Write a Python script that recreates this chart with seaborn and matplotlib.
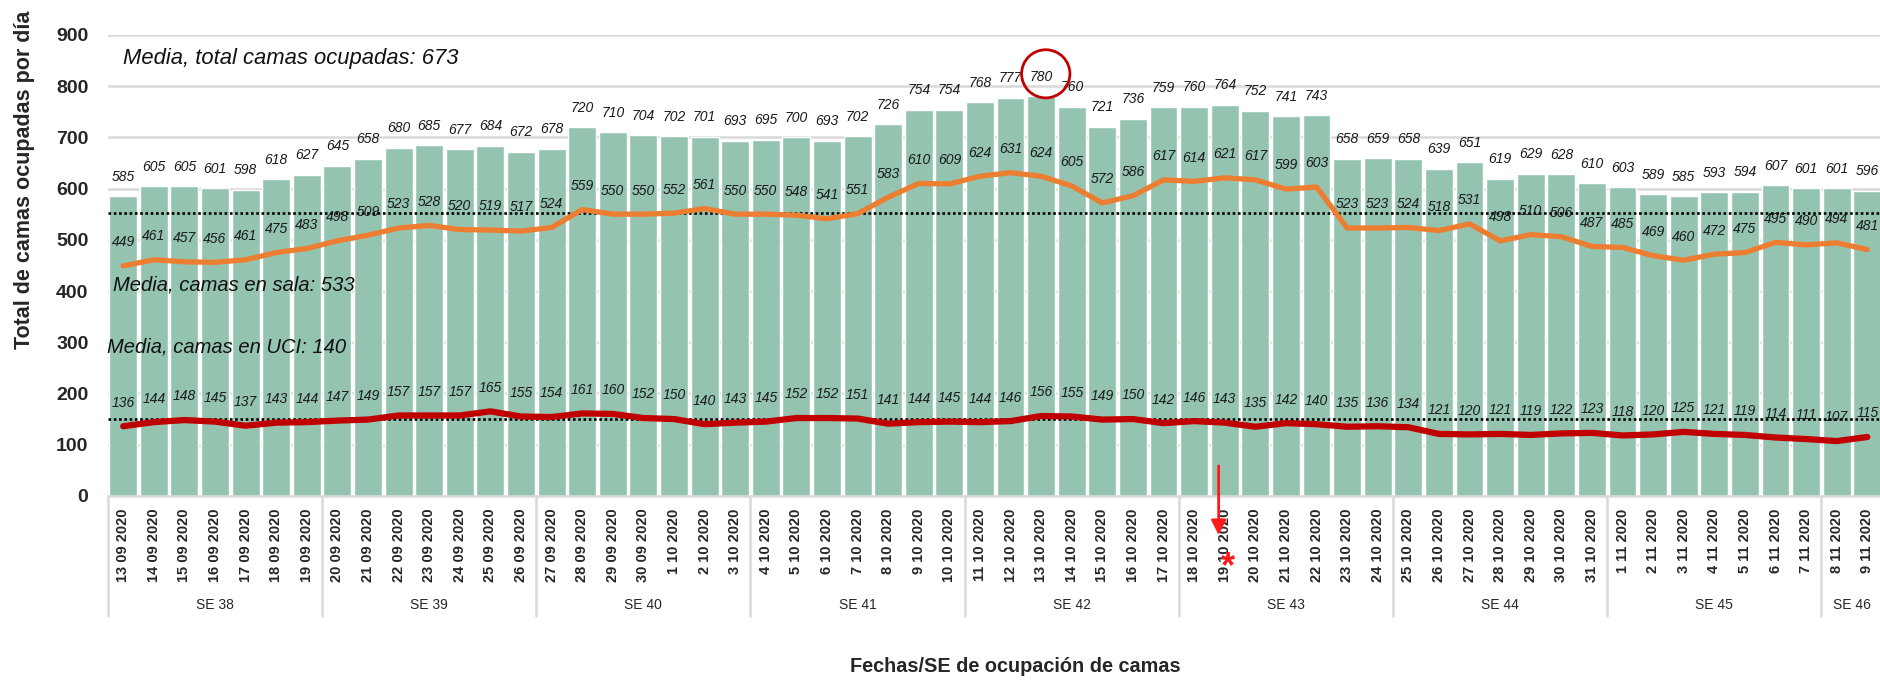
import matplotlib
matplotlib.use('Agg')
import matplotlib.pyplot as plt
from matplotlib.patches import Ellipse
import numpy as np
import pandas as pd
import seaborn as sns

# datos
fechas = ['13 09 2020', '14 09 2020', '15 09 2020', '16 09 2020', '17 09 2020', '18 09 2020', '19 09 2020',
          '20 09 2020', '21 09 2020', '22 09 2020', '23 09 2020', '24 09 2020', '25 09 2020', '26 09 2020',
          '27 09 2020', '28 09 2020', '29 09 2020', '30 09 2020', '1 10 2020', '2 10 2020', '3 10 2020',
          '4 10 2020', '5 10 2020', '6 10 2020', '7 10 2020', '8 10 2020', '9 10 2020', '10 10 2020',
          '11 10 2020', '12 10 2020', '13 10 2020', '14 10 2020', '15 10 2020', '16 10 2020', '17 10 2020',
          '18 10 2020', '19 10 2020', '20 10 2020', '21 10 2020', '22 10 2020', '23 10 2020', '24 10 2020',
          '25 10 2020', '26 10 2020', '27 10 2020', '28 10 2020', '29 10 2020', '30 10 2020', '31 10 2020',
          '1 11 2020', '2 11 2020', '3 11 2020', '4 11 2020', '5 11 2020', '6 11 2020', '7 11 2020',
          '8 11 2020', '9 11 2020']
semanas = ['SE 38', 'SE 39', 'SE 40', 'SE 41', 'SE 42', 'SE 43', 'SE 44', 'SE 45', 'SE 46']
dias_semana = [7, 7, 7, 7, 7, 7, 7, 7, 2]

total = [585, 605, 605, 601, 598, 618, 627, 645, 658, 680, 685, 677, 684, 672, 678, 720, 710, 704, 702, 701,
         693, 695, 700, 693, 702, 726, 754, 754, 768, 777, 780, 760, 721, 736, 759, 760, 764, 752, 741, 743,
         658, 659, 658, 639, 651, 619, 629, 628, 610, 603, 589, 585, 593, 594, 607, 601, 601, 596]
sala = [449, 461, 457, 456, 461, 475, 483, 498, 509, 523, 528, 520, 519, 517, 524, 559, 550, 550, 552, 561,
        550, 550, 548, 541, 551, 583, 610, 609, 624, 631, 624, 605, 572, 586, 617, 614, 621, 617, 599, 603,
        523, 523, 524, 518, 531, 498, 510, 506, 487, 485, 469, 460, 472, 475, 495, 490, 494, 481]
uci = [136, 144, 148, 145, 137, 143, 144, 147, 149, 157, 157, 157, 165, 155, 154, 161, 160, 152, 150, 140,
       143, 145, 152, 152, 151, 141, 144, 145, 144, 146, 156, 155, 149, 150, 142, 146, 143, 135, 142, 140,
       135, 136, 134, 121, 120, 121, 119, 122, 123, 118, 120, 125, 121, 119, 114, 111, 107, 115]

linea_sala = 552
linea_uci = 150
media_total, media_sala, media_uci = 673, 533, 140
fecha_marcada = '19 10 2020'

sns.set_style('white')
plt.rcParams['font.family'] = ['Liberation Sans', 'DejaVu Sans']

df = pd.DataFrame({'fecha': fechas, 'total': total, 'sala': sala, 'uci': uci})
df['pos'] = np.arange(len(df))

fig = plt.figure(figsize=(18.8, 6.84), dpi=100, facecolor='white')
ax = fig.add_axes([0.0574, 0.275, 0.944, 0.674])

sns.barplot(data=df, x='fecha', y='total', color='#94C4B0', saturation=1, width=0.91, ax=ax, zorder=2)
ax.axhline(linea_sala, color='black', lw=1.9, linestyle=(0, (1, 1)), zorder=3)
ax.axhline(linea_uci, color='black', lw=1.9, linestyle=(0, (1, 1)), zorder=3)
sns.lineplot(data=df, x='pos', y='sala', color='#ED7D31', lw=3.8, ax=ax, zorder=4)
sns.lineplot(data=df, x='pos', y='uci', color='#C00000', lw=4.5, ax=ax, zorder=4)

lab = dict(ha='center', va='center', fontsize=10, fontstyle='italic', color='#1a1a1a', zorder=6,
           textcoords='offset points')
for i in range(len(df)):
    ax.annotate(str(total[i]), (i, total[i]), xytext=(0, 14), **lab)
    ax.annotate(str(sala[i]), (i, sala[i]), xytext=(0, 17), **lab)
    ax.annotate(str(uci[i]), (i, uci[i]), xytext=(0, 17), **lab)

# textos de medias
txt = dict(ha='left', va='center', fontstyle='italic', color='#111111', zorder=6)
ax.text(0.0, 853, 'Media, total camas ocupadas: %d' % media_total, fontsize=15.8, **txt)
ax.text(-0.34, 412, 'Media, camas en sala: %d' % media_sala, fontsize=14.5, **txt)
ax.text(-0.53, 291, 'Media, camas en UCI: %d' % media_uci, fontsize=14.5, **txt)

# circulo en el maximo
imax = int(np.argmax(total))
ax.add_patch(Ellipse((imax + 0.15, total[imax] + 44), width=1.58, height=94, fill=False,
                     edgecolor='#C00000', lw=2, zorder=7, clip_on=False))

# flecha y asterisco
im = fechas.index(fecha_marcada)
ax.annotate('', xy=(im - 0.2, -82), xytext=(im - 0.2, 64),
            arrowprops=dict(arrowstyle='-|>', color='#FF1A1A', lw=2, mutation_scale=22),
            annotation_clip=False, zorder=8)
ax.text(im + 0.1, -140, '*', color='#FF1A1A', fontsize=26, fontweight='bold',
        ha='center', va='center', zorder=8, clip_on=False)

# ejes
ax.set_ylim(0, 900)
ax.set_yticks(np.arange(0, 901, 100))
ax.set_xlim(-0.5, len(df) - 0.5)
ax.set_axisbelow(True)
ax.yaxis.grid(True, color='#D9D9D9', lw=1.8)
ax.tick_params(axis='y', length=0, pad=14, labelsize=14)
for t in ax.get_yticklabels():
    t.set_fontweight('bold')
ax.set_xticks(df['pos'])
ax.set_xticklabels(fechas, rotation=90, fontsize=10.5, fontweight='bold')
ax.tick_params(axis='x', length=0, pad=9)
ax.set_xlabel('')
ax.set_ylabel('')
for s in ['top', 'right', 'left']:
    ax.spines[s].set_visible(False)
ax.spines['bottom'].set_color('#D9D9D9')
ax.spines['bottom'].set_linewidth(1.8)

# agrupacion por semana epidemiologica
trans = ax.get_xaxis_transform()
limites = np.concatenate([[0], np.cumsum(dias_semana)]) - 0.5
for b in limites:
    ax.plot([b, b], [0, -0.26], transform=trans, color='#D9D9D9', lw=1.8, clip_on=False)
for k, nombre in enumerate(semanas):
    ax.text((limites[k] + limites[k + 1]) / 2, -0.236, nombre, transform=trans,
            ha='center', va='center', fontsize=10)

fig.text(0.0128, 0.737, 'Total de camas ocupadas por día', rotation=90, ha='center', va='center',
         fontsize=15.5, fontweight='bold')
fig.text(0.540, 0.025, 'Fechas/SE de ocupación de camas', ha='center', va='center',
         fontsize=14.3, fontweight='bold')

fig.savefig('out.png', dpi=100, facecolor='white')
